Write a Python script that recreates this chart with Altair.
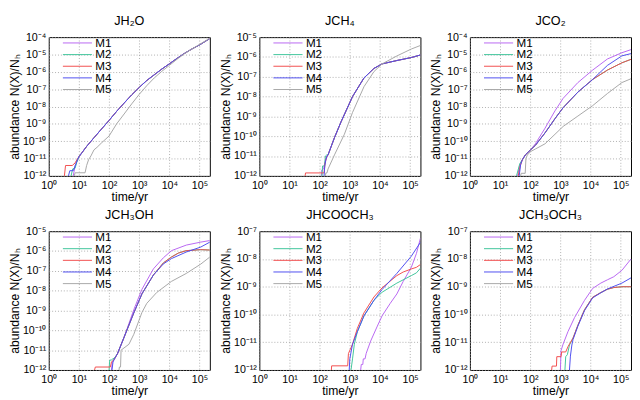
import altair as alt
import pandas as pd

# ---------------- data (time in yr, log10 abundance) ----------------
MODELS = ["M1", "M2", "M3", "M4", "M5"]
COLORS = ["#b865f2", "#3ec49a", "#f24c4c", "#4c4cf0", "#a6a6a6"]
WIDTHS = [1.0, 1.0, 1.0, 1.0, 1.8]
X_TICKS = [1, 10, 100, 1000, 10000, 100000]
X_MAX = 2.2e5

# JH2O
JH2O_SHARED = [(10, -10.9), (18, -10.3), (31.6, -9.8), (56, -9.3), (100, -8.8), (178, -8.28),
               (316, -7.8), (562, -7.33), (1000, -6.9), (1778, -6.5), (3162, -6.17), (5623, -5.84),
               (10000, -5.54), (17783, -5.23), (31623, -4.94), (56234, -4.68), (100000, -4.45),
               (220000, -4.08)]
JH2O_M1 = [(6.5, -12), (7.5, -11.4), (9, -11.1)] + JH2O_SHARED
JH2O_M2 = [(5.5, -12), (6.2, -11.6), (7.5, -11.55), (8.5, -11.2), (9.5, -11.0)] + JH2O_SHARED
JH2O_M3 = [(3.3, -12), (3.6, -11.4), (6.0, -11.4), (7.5, -11.25), (9, -11.0)] + JH2O_SHARED
JH2O_M4 = [(4.5, -12), (5.0, -11.7), (6.5, -11.7), (8, -11.3), (9, -11.05)] + JH2O_SHARED
JH2O_M5 = [(7, -12), (7.5, -11.82), (16, -11.82), (18, -11.4), (21, -11.06), (25, -10.85),
           (31.6, -10.5), (40, -10.35), (56, -10.1), (100, -9.7), (178, -9.0), (316, -8.43),
           (562, -7.85), (1000, -7.3), (1778, -6.8), (3162, -6.35), (5623, -5.97), (10000, -5.63),
           (17783, -5.28), (31623, -4.96), (56234, -4.68), (100000, -4.42), (220000, -4.06)]

# JCH4
JCH4_SHARED = [(190, -10.94), (310, -10.07), (513, -9.27), (1230, -8.0), (2951, -7.06),
               (6310, -6.58), (11750, -6.35), (36300, -6.18), (109600, -6.03), (220000, -5.9)]
JCH4_M1 = [(115, -12), (118, -11.7), (135, -11.65), (150, -11.3), (165, -11.1)] + JCH4_SHARED
JCH4_M2 = [(120, -12), (125, -11.5), (145, -11.5), (155, -11.0), (170, -10.95)] + JCH4_SHARED
JCH4_M3 = [(33, -12), (34, -11.85), (140, -11.85), (150, -11.4), (170, -11.05)] + JCH4_SHARED
JCH4_M4 = [(140, -12), (148, -11.5), (160, -11.2), (175, -11.0)] + JCH4_SHARED
JCH4_M5 = [(155, -12), (160, -11.85), (175, -11.85), (190, -11.65), (310, -10.94), (661, -9.9),
           (1230, -8.8), (2951, -7.5), (6310, -6.74), (11750, -6.35), (36300, -5.95),
           (109600, -5.6), (220000, -5.42)]

# JCO2
JCO2_EARLY = [(55, -11.06), (69, -10.79), (102, -10.5)]
JCO2_TAIL23 = [(148, -10.24), (309, -9.52), (661, -8.7), (1230, -8.07), (3802, -7.17),
               (11750, -6.44), (36300, -5.9), (109600, -5.48), (220000, -5.28)]
JCO2_M1 = [(38, -12), (45, -11.35)] + JCO2_EARLY + [
    (148, -10.15), (309, -9.25), (661, -8.25), (1230, -7.53), (3802, -6.62), (11750, -5.9),
    (36300, -5.26), (109600, -4.9), (220000, -4.72)]
JCO2_M2 = [(35, -12), (45, -11.3)] + JCO2_EARLY + JCO2_TAIL23
JCO2_M3 = [(40, -12), (46, -11.45)] + JCO2_EARLY + JCO2_TAIL23
JCO2_M4 = [(43, -12), (48, -11.35)] + JCO2_EARLY + [
    (148, -10.24), (309, -9.52), (661, -8.7), (1230, -8.07), (3802, -7.17), (11750, -6.44),
    (36300, -5.63), (109600, -5.08), (220000, -4.95)]
JCO2_M5 = [(48, -12), (50, -11.85), (68, -11.85), (72, -11.0), (80, -10.8), (102, -10.6),
           (148, -10.45), (309, -10.15), (661, -9.6), (1230, -9.15), (3802, -8.55),
           (11750, -7.95), (36300, -7.25), (109600, -6.62), (220000, -6.4)]

# JCH3OH
JCH3OH_EARLY = [(190, -11.18), (309, -10.38)]
JCH3OH_M1 = [(120, -12), (128, -11.6), (150, -11.45)] + JCH3OH_EARLY + [
    (661, -8.96), (1230, -7.93), (2951, -6.9), (6310, -6.34), (11750, -5.98), (36300, -5.7),
    (109600, -5.55), (220000, -5.47)]
JCH3OH_M2 = [(100, -12), (105, -11.5), (118, -11.5), (130, -11.45), (150, -11.4)] + JCH3OH_EARLY + [
    (661, -9.12), (1230, -8.16), (2951, -7.21), (6310, -6.6), (11750, -6.3), (20000, -6.1),
    (36300, -5.98), (109600, -5.93), (220000, -5.95)]
JCH3OH_M3 = [(33, -12), (35, -11.85), (110, -11.85), (120, -11.6), (150, -11.45)] + JCH3OH_EARLY + [
    (661, -9.12), (1230, -8.16), (2951, -7.21), (6310, -6.6), (11750, -6.3), (20000, -6.1),
    (36300, -5.98), (109600, -5.93), (220000, -5.95)]
JCH3OH_M4 = [(125, -12), (135, -11.6), (150, -11.45)] + JCH3OH_EARLY + [
    (661, -9.12), (1230, -8.16), (2951, -7.21), (6310, -6.65), (11750, -6.38), (36300, -6.05),
    (109600, -5.8), (220000, -5.55)]
JCH3OH_M5 = [(214, -12), (220, -11.85), (240, -11.85), (250, -11.0), (457, -10.7), (661, -10.2),
             (1230, -9.1), (1778, -8.64), (3802, -8.09), (11750, -7.53), (36300, -7.13),
             (109600, -6.66), (220000, -6.3)]

# JHCOOCH3
JHCOOCH3_M1 = [(2291, -12), (2400, -11.8), (2700, -11.8), (2800, -11.6), (3200, -11.6),
               (3500, -11.4), (4898, -10.96), (7943, -10.45), (11750, -10.05), (21880, -9.6),
               (36300, -9.26), (58900, -8.81), (109600, -8.3), (162200, -7.8), (220000, -7.25)]
JHCOOCH3_M2 = [(1096, -12), (1230, -11.6), (1413, -11.07), (1778, -10.62), (2951, -10.05),
               (6310, -9.49), (11750, -9.2), (36300, -8.87), (109600, -8.6), (162200, -8.5),
               (220000, -8.33)]
JHCOOCH3_M3 = [(245, -12), (250, -11.85), (851, -11.85), (900, -11.41), (1230, -11.07),
               (1778, -10.5), (2951, -9.94), (6310, -9.37), (11750, -9.04), (36300, -8.6),
               (58900, -8.47), (109600, -8.36), (162200, -8.3), (220000, -8.2)]
JHCOOCH3_M4 = [(955, -12), (1000, -11.6), (1230, -11.07), (1778, -10.62), (2951, -10.05),
               (6310, -9.49), (11750, -9.1), (36300, -8.52), (109600, -7.9), (220000, -7.4)]
JHCOOCH3_M5 = []

# JCH3OCH3
JCH3OCH3_M1 = [(1000, -12), (1050, -11.3), (1230, -11.07), (1778, -10.62), (2951, -10.11),
               (6310, -9.49), (11750, -9.06), (21880, -8.87), (36300, -8.75), (58900, -8.64),
               (109600, -8.41), (220000, -8.0)]
JCH3OCH3_M2 = [(1413, -12), (1500, -11.52), (1700, -11.45), (2000, -11.1), (2630, -10.85),
               (3802, -10.39), (6310, -9.83), (11750, -9.38), (21880, -9.21), (36300, -9.09),
               (58900, -9.03), (109600, -9.0), (220000, -9.0)]
JCH3OCH3_M3 = [(513, -12), (530, -11.86), (740, -11.86), (760, -11.52), (1050, -11.52),
               (1100, -11.35), (1500, -11.35), (1800, -11.15), (2630, -10.85), (3802, -10.39),
               (6310, -9.83), (11750, -9.38), (21880, -9.21), (36300, -9.09), (58900, -9.03),
               (109600, -9.0), (220000, -9.0)]
JCH3OCH3_M4 = [(2000, -12), (2150, -11.5), (2400, -11.1), (2630, -10.9), (3802, -10.42),
               (6310, -9.86), (11750, -9.4), (21880, -9.22), (36300, -9.08), (109600, -8.87),
               (220000, -8.68)]
JCH3OCH3_M5 = []

PANELS = [
    ("JH₂O", -12, -4, [JH2O_M1, JH2O_M2, JH2O_M3, JH2O_M4, JH2O_M5]),
    ("JCH₄", -12, -5, [JCH4_M1, JCH4_M2, JCH4_M3, JCH4_M4, JCH4_M5]),
    ("JCO₂", -12, -4, [JCO2_M1, JCO2_M2, JCO2_M3, JCO2_M4, JCO2_M5]),
    ("JCH₃OH", -12, -5, [JCH3OH_M1, JCH3OH_M2, JCH3OH_M3, JCH3OH_M4, JCH3OH_M5]),
    ("JHCOOCH₃", -12, -7, [JHCOOCH3_M1, JHCOOCH3_M2, JHCOOCH3_M3, JHCOOCH3_M4, JHCOOCH3_M5]),
    ("JCH₃OCH₃", -12, -7, [JCH3OCH3_M1, JCH3OCH3_M2, JCH3OCH3_M3, JCH3OCH3_M4, JCH3OCH3_M5]),
]

# ---------------- helpers ----------------
SUP = str.maketrans("0123456789-", "⁰¹²³⁴⁵⁶⁷⁸⁹⁻")


def pow_label_expr(exponents):
    # outermost test = highest exponent
    expr = "''"
    for e in sorted(exponents):
        thr = 10.0 ** (e - 0.5)
        expr = f"datum.value >= {thr!r} ? '10{str(e).translate(SUP)}' : ({expr})"
    return expr


FONT = "Liberation Sans"
W, H = 166, 143


def panel(title, ylo, yhi, curves):
    rows = []
    for m, pts in zip(MODELS, curves):
        for t, lv in pts:
            rows.append({"model": m, "t": t, "v": 10 ** lv})
    df = pd.DataFrame(rows, columns=["model", "t", "v"])
    exps = list(range(ylo, yhi + 1))
    legend = alt.Legend(
        title=None, orient="none", legendX=14, legendY=0, symbolType="stroke",
        symbolSize=900, clipHeight=12, rowPadding=0, padding=0, labelOffset=3,
        labelFontSize=12, labelFont=FONT, labelColor="black", values=MODELS,
        symbolOpacity=1,
    )
    return alt.Chart(df).mark_line(clip=True).encode(
        x=alt.X("t:Q", scale=alt.Scale(type="log", domain=[1, X_MAX], nice=False),
                axis=alt.Axis(values=X_TICKS, labelExpr=pow_label_expr(range(0, 6)),
                              title="time/yr", labelPadding=4, titlePadding=0)),
        y=alt.Y("v:Q", scale=alt.Scale(type="log", domain=[10.0 ** ylo, 10.0 ** yhi], nice=False),
                axis=alt.Axis(values=[10.0 ** e for e in exps], labelExpr=pow_label_expr(exps),
                              title="abundance N(X)/Nₕ", labelPadding=3)),
        color=alt.Color("model:N", scale=alt.Scale(domain=MODELS, range=COLORS), legend=legend),
        strokeWidth=alt.StrokeWidth("model:N", scale=alt.Scale(domain=MODELS, range=WIDTHS),
                                    legend=legend),
        order=alt.Order("t:Q"),
    ).properties(title=title, width=W, height=H)


charts = [panel(*p) for p in PANELS]

chart = alt.concat(*charts, columns=3, spacing={"row": 5, "column": 8}, padding=0).resolve_scale(
    color="independent", strokeWidth="independent"
).resolve_legend(color="independent", strokeWidth="independent").configure_view(
    stroke="black", strokeWidth=1
).configure_axis(
    labelFont=FONT, titleFont=FONT, labelFontSize=11, titleFontSize=12.5,
    titleFontWeight="normal", labelColor="black", titleColor="black",
    grid=True, gridColor="#999999", gridDash=[1, 2], gridWidth=0.8,
    domain=False, ticks=False, titlePadding=1,
    labelFlush=False, labelOverlap=False,
).configure_title(
    font=FONT, fontSize=13, fontWeight="normal", color="black", offset=4
)

chart.save("out.html", embed_options={"renderer": "svg", "actions": False})
